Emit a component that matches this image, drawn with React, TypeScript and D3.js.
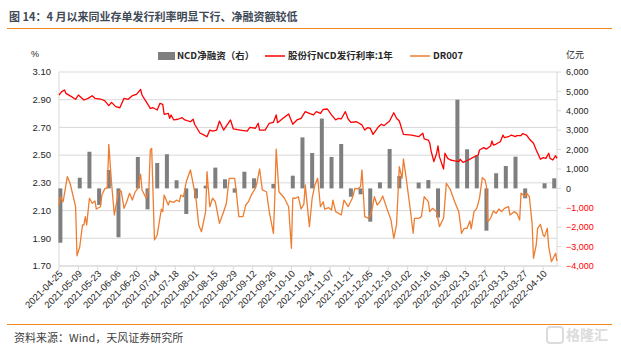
import React from "react";
import * as d3 from "d3";

// 股份行NCD发行利率:1年 (%)
const ncdRate: [string, number][] = [
  ["2021-04-25", 2.934], ["2021-04-27", 2.958], ["2021-04-29", 2.97], ["2021-04-30", 2.946],
  ["2021-05-04", 2.922], ["2021-05-07", 2.903], ["2021-05-09", 2.934], ["2021-05-13", 2.898],
  ["2021-05-16", 2.91], ["2021-05-19", 2.929], ["2021-05-21", 2.91], ["2021-05-25", 2.905],
  ["2021-05-28", 2.893], ["2021-05-31", 2.857], ["2021-06-02", 2.881], ["2021-06-05", 2.85],
  ["2021-06-08", 2.842], ["2021-06-11", 2.91], ["2021-06-14", 2.903], ["2021-06-17", 2.929],
  ["2021-06-20", 2.939], ["2021-06-23", 2.975], ["2021-06-24", 2.934], ["2021-06-27", 2.886],
  ["2021-06-30", 2.838], ["2021-07-02", 2.842], ["2021-07-05", 2.826], ["2021-07-07", 2.874],
  ["2021-07-09", 2.867], ["2021-07-10", 2.795], ["2021-07-13", 2.802], ["2021-07-14", 2.766],
  ["2021-07-15", 2.79], ["2021-07-17", 2.754], ["2021-07-20", 2.759], ["2021-07-23", 2.77],
  ["2021-07-25", 2.754], ["2021-07-29", 2.741], ["2021-07-31", 2.759], ["2021-08-01", 2.723],
  ["2021-08-05", 2.658], ["2021-08-07", 2.65], ["2021-08-10", 2.633], ["2021-08-12", 2.681],
  ["2021-08-14", 2.674], ["2021-08-17", 2.681], ["2021-08-19", 2.746], ["2021-08-22", 2.681],
  ["2021-08-27", 2.754], ["2021-08-29", 2.689], ["2021-09-03", 2.681], ["2021-09-08", 2.674],
  ["2021-09-10", 2.701], ["2021-09-14", 2.694], ["2021-09-16", 2.73], ["2021-09-17", 2.681],
  ["2021-09-21", 2.681], ["2021-09-24", 2.73], ["2021-09-27", 2.737], ["2021-09-29", 2.79],
  ["2021-09-30", 2.734], ["2021-10-04", 2.766], ["2021-10-08", 2.797], ["2021-10-11", 2.723],
  ["2021-10-14", 2.754], ["2021-10-17", 2.766], ["2021-10-20", 2.814], ["2021-10-23", 2.802],
  ["2021-10-26", 2.79], ["2021-10-28", 2.814], ["2021-10-31", 2.802], ["2021-11-02", 2.831],
  ["2021-11-05", 2.833], ["2021-11-08", 2.79], ["2021-11-11", 2.754], ["2021-11-13", 2.766],
  ["2021-11-15", 2.761], ["2021-11-18", 2.814], ["2021-11-20", 2.761], ["2021-11-22", 2.737],
  ["2021-11-26", 2.741], ["2021-11-30", 2.718], ["2021-12-02", 2.681], ["2021-12-04", 2.698],
  ["2021-12-06", 2.694], ["2021-12-08", 2.65], ["2021-12-12", 2.705], ["2021-12-14", 2.723],
  ["2021-12-16", 2.713], ["2021-12-18", 2.73], ["2021-12-20", 2.746], ["2021-12-23", 2.806],
  ["2021-12-25", 2.766], ["2021-12-27", 2.746], ["2021-12-30", 2.65], ["2022-01-05", 2.645],
  ["2022-01-10", 2.633], ["2022-01-13", 2.658], ["2022-01-14", 2.617], ["2022-01-17", 2.609],
  ["2022-01-18", 2.586], ["2022-01-19", 2.53], ["2022-01-21", 2.453], ["2022-01-23", 2.514],
  ["2022-01-24", 2.566], ["2022-01-25", 2.489], ["2022-01-28", 2.4], ["2022-01-29", 2.514],
  ["2022-01-31", 2.477], ["2022-02-02", 2.465], ["2022-02-05", 2.458], ["2022-02-08", 2.453],
  ["2022-02-09", 2.47], ["2022-02-11", 2.448], ["2022-02-15", 2.465], ["2022-02-18", 2.482],
  ["2022-02-22", 2.501], ["2022-02-23", 2.537], ["2022-02-26", 2.554], ["2022-02-28", 2.544],
  ["2022-03-03", 2.566], ["2022-03-04", 2.602], ["2022-03-05", 2.573], ["2022-03-07", 2.58],
  ["2022-03-10", 2.597], ["2022-03-12", 2.645], ["2022-03-13", 2.626], ["2022-03-16", 2.633],
  ["2022-03-18", 2.645], ["2022-03-21", 2.633], ["2022-03-22", 2.641], ["2022-03-25", 2.641],
  ["2022-03-26", 2.655], ["2022-03-29", 2.645], ["2022-03-31", 2.617], ["2022-04-03", 2.586],
  ["2022-04-05", 2.537], ["2022-04-08", 2.47], ["2022-04-10", 2.482], ["2022-04-12", 2.477],
  ["2022-04-14", 2.514], ["2022-04-15", 2.477], ["2022-04-17", 2.465], ["2022-04-19", 2.496],
  ["2022-04-20", 2.477],
];

// DR007 (%)
const dr007: [string, number][] = [
  ["2021-04-25", 2.14], ["2021-04-26", 2.2], ["2021-04-28", 2.164], ["2021-05-01", 2.345],
  ["2021-05-03", 2.297], ["2021-05-07", 2.128], ["2021-05-08", 1.774], ["2021-05-10", 1.839],
  ["2021-05-12", 1.996], ["2021-05-13", 1.996], ["2021-05-14", 2.056], ["2021-05-15", 1.996],
  ["2021-05-17", 2.189], ["2021-05-19", 2.153], ["2021-05-21", 2.169], ["2021-05-22", 2.111],
  ["2021-05-25", 2.128], ["2021-05-26", 2.212], ["2021-05-28", 2.256], ["2021-05-30", 2.265],
  ["2021-05-31", 2.578], ["2021-06-02", 2.297], ["2021-06-04", 2.068], ["2021-06-07", 2.236],
  ["2021-06-09", 2.241], ["2021-06-11", 2.116], ["2021-06-13", 2.164], ["2021-06-15", 2.225],
  ["2021-06-17", 2.176], ["2021-06-19", 2.233], ["2021-06-21", 2.261], ["2021-06-23", 2.362],
  ["2021-06-24", 2.249], ["2021-06-27", 2.189], ["2021-06-29", 2.261], ["2021-06-30", 2.537],
  ["2021-07-01", 2.549], ["2021-07-03", 1.888], ["2021-07-05", 1.924], ["2021-07-08", 2.111],
  ["2021-07-09", 2.092], ["2021-07-10", 2.212], ["2021-07-13", 2.14], ["2021-07-14", 2.169],
  ["2021-07-17", 2.16], ["2021-07-19", 2.176], ["2021-07-21", 2.164], ["2021-07-22", 2.212],
  ["2021-07-24", 2.2], ["2021-07-26", 2.308], ["2021-07-29", 2.393], ["2021-07-31", 2.29],
  ["2021-08-02", 2.189], ["2021-08-04", 1.996], ["2021-08-06", 1.948], ["2021-08-09", 2.092],
  ["2021-08-10", 2.381], ["2021-08-12", 2.128], ["2021-08-14", 2.189], ["2021-08-16", 2.164],
  ["2021-08-19", 2.008], ["2021-08-22", 2.092], ["2021-08-24", 2.153], ["2021-08-26", 2.333],
  ["2021-08-30", 2.333], ["2021-08-31", 2.249], ["2021-09-02", 2.056], ["2021-09-05", 2.056],
  ["2021-09-07", 2.14], ["2021-09-09", 2.164], ["2021-09-11", 2.212], ["2021-09-14", 2.261],
  ["2021-09-15", 2.297], ["2021-09-17", 2.4], ["2021-09-19", 2.249], ["2021-09-22", 2.236],
  ["2021-09-24", 2.092], ["2021-09-27", 1.936], ["2021-09-28", 2.189], ["2021-09-29", 2.544],
  ["2021-10-01", 2.236], ["2021-10-05", 2.189], ["2021-10-08", 2.128], ["2021-10-10", 1.828],
  ["2021-10-11", 2.189], ["2021-10-13", 2.189], ["2021-10-15", 2.2], ["2021-10-17", 2.111],
  ["2021-10-19", 2.146], ["2021-10-20", 2.285], ["2021-10-23", 1.984], ["2021-10-25", 2.189],
  ["2021-10-27", 2.285], ["2021-10-29", 2.333], ["2021-10-31", 2.128], ["2021-11-02", 2.164],
  ["2021-11-03", 2.111], ["2021-11-06", 2.121], ["2021-11-08", 2.104], ["2021-11-09", 2.176],
  ["2021-11-11", 2.092], ["2021-11-15", 2.068], ["2021-11-17", 2.176], ["2021-11-20", 2.128],
  ["2021-11-23", 2.189], ["2021-11-25", 2.261], ["2021-11-27", 2.256], ["2021-11-29", 2.273],
  ["2021-11-30", 2.393], ["2021-12-02", 2.056], ["2021-12-05", 2.044], ["2021-12-07", 2.092],
  ["2021-12-09", 2.2], ["2021-12-11", 2.14], ["2021-12-13", 2.164], ["2021-12-15", 2.205],
  ["2021-12-18", 2.116], ["2021-12-21", 2.032], ["2021-12-23", 1.9], ["2021-12-25", 1.996],
  ["2021-12-27", 2.417], ["2021-12-29", 2.333], ["2021-12-30", 2.472], ["2022-01-01", 2.333],
  ["2022-01-04", 2.104], ["2022-01-06", 1.936], ["2022-01-07", 2.044], ["2022-01-10", 2.044],
  ["2022-01-12", 2.056], ["2022-01-14", 2.2], ["2022-01-17", 2.164], ["2022-01-18", 2.092],
  ["2022-01-20", 2.116], ["2022-01-23", 2.092], ["2022-01-25", 1.984], ["2022-01-28", 2.044],
  ["2022-01-30", 2.297], ["2022-02-02", 2.249], ["2022-02-05", 2.164], ["2022-02-08", 2.092],
  ["2022-02-10", 1.936], ["2022-02-12", 1.972], ["2022-02-14", 1.972], ["2022-02-16", 2.025],
  ["2022-02-17", 1.968], ["2022-02-19", 2.092], ["2022-02-21", 2.116], ["2022-02-23", 2.192],
  ["2022-02-25", 2.337], ["2022-02-27", 2.32], ["2022-02-28", 2.273], ["2022-03-01", 2.02],
  ["2022-03-03", 2.044], ["2022-03-05", 2.097], ["2022-03-07", 2.08], ["2022-03-09", 2.111],
  ["2022-03-11", 2.092], ["2022-03-13", 2.116], ["2022-03-16", 2.128], ["2022-03-17", 2.068],
  ["2022-03-20", 2.092], ["2022-03-22", 2.08], ["2022-03-24", 2.032], ["2022-03-25", 2.225],
  ["2022-03-28", 2.2], ["2022-03-29", 2.225], ["2022-03-31", 2.2], ["2022-04-02", 2.008],
  ["2022-04-03", 1.756], ["2022-04-05", 1.852], ["2022-04-06", 1.972], ["2022-04-08", 2.001],
  ["2022-04-10", 1.924], ["2022-04-11", 1.912], ["2022-04-13", 1.972], ["2022-04-14", 1.839],
  ["2022-04-16", 1.731], ["2022-04-19", 1.792], ["2022-04-20", 1.736],
];

// NCD净融资（右）, 亿元, weekly
const netFinance: [string, number][] = [
  ["2021-04-26", -2800], ["2021-05-03", 0], ["2021-05-10", 550], ["2021-05-17", 1890],
  ["2021-05-24", -855], ["2021-05-31", 950], ["2021-06-07", -2520], ["2021-06-14", 0],
  ["2021-06-21", 1620], ["2021-06-28", -1080], ["2021-07-05", 1310], ["2021-07-12", 1760],
  ["2021-07-19", 420], ["2021-07-26", -1320], ["2021-08-02", -510], ["2021-08-09", 140],
  ["2021-08-16", 1070], ["2021-08-23", 470], ["2021-08-30", -220], ["2021-09-06", 860],
  ["2021-09-13", 520], ["2021-09-20", 0], ["2021-09-27", 230], ["2021-10-04", 0],
  ["2021-10-11", 655], ["2021-10-18", 2630], ["2021-10-25", 1825], ["2021-11-01", 3600],
  ["2021-11-08", 1620], ["2021-11-15", 2290], ["2021-11-22", -430], ["2021-11-29", -305],
  ["2021-12-06", -1715], ["2021-12-13", 310], ["2021-12-20", 2030], ["2021-12-27", 640],
  ["2022-01-03", 0], ["2022-01-10", 300], ["2022-01-17", 430], ["2022-01-24", -1500],
  ["2022-01-31", 0], ["2022-02-07", 4570], ["2022-02-14", 2015], ["2022-02-21", 1705],
  ["2022-02-28", -2180], ["2022-03-07", 780], ["2022-03-14", 1155], ["2022-03-21", 1635],
  ["2022-03-28", -510], ["2022-04-04", 0], ["2022-04-11", 265], ["2022-04-18", 520],
];

const xTickLabels = [
  "2021-04-25", "2021-05-09", "2021-05-23", "2021-06-06", "2021-06-20", "2021-07-04",
  "2021-07-18", "2021-08-01", "2021-08-15", "2021-08-29", "2021-09-12", "2021-09-26",
  "2021-10-10", "2021-10-24", "2021-11-07", "2021-11-21", "2021-12-05", "2021-12-19",
  "2022-01-02", "2022-01-16", "2022-01-30", "2022-02-13", "2022-02-27", "2022-03-13",
  "2022-03-27", "2022-04-10",
];
const leftTicks = [1.7, 1.9, 2.1, 2.3, 2.5, 2.7, 2.9, 3.1];
const rightTicks = [-4000, -3000, -2000, -1000, 0, 1000, 2000, 3000, 4000, 5000, 6000];

const W = 621;
const H = 354;
const m = { left: 59, right: 557, top: 72, bottom: 266 };
const SANS = "'Liberation Sans', Arial, 'Noto Sans CJK SC', sans-serif";
const CJK = "'Noto Sans CJK SC', 'Liberation Sans', sans-serif";

export default function App() {
  const parse = d3.timeParse("%Y-%m-%d");
  const x = d3.scaleTime()
    .domain([parse("2021-04-25")!, parse("2022-04-20")!])
    .range([m.left, m.right]);
  const yL = d3.scaleLinear().domain([1.7, 3.1]).range([m.bottom, m.top]);
  const yR = d3.scaleLinear().domain([-4000, 6000]).range([m.bottom, m.top]);

  const line = d3.line<[string, number]>()
    .x(d => x(parse(d[0])!))
    .y(d => yL(d[1]));

  const fmtR = d3.format(",");
  const barW = 4;

  return (
    <div style={{ position: "absolute", left: 0, top: 0, background: "#fff" }}>
      <svg width={W} height={H} style={{ display: "block" }}>
        <rect width={W} height={H} fill="#fff" />
        {/* title */}
        <text x={9} y={21} fontFamily={CJK} fontSize={11} fontWeight="bold" fill="#3f4a57">
          图 14：4 月以来同业存单发行利率明显下行、净融资额较低
        </text>
        <line x1={7} x2={612} y1={28.5} y2={28.5} stroke="#f0861e" strokeWidth={1.2} />

        {/* gridlines */}
        {leftTicks.map(t => (
          <line key={t} x1={m.left} x2={m.right} y1={yL(t)} y2={yL(t)} stroke="#d9d9d9" strokeWidth={1} />
        ))}
        <line x1={m.left} x2={m.left} y1={m.top} y2={m.bottom} stroke="#d9d9d9" />
        <line x1={m.right} x2={m.right} y1={m.top} y2={m.bottom} stroke="#d9d9d9" />

        {/* left axis labels */}
        {leftTicks.map(t => (
          <text key={t} x={51} y={yL(t)} dy="0.35em" textAnchor="end" fontFamily={SANS} fontSize={9.5} fill="#262626">
            {t.toFixed(2)}
          </text>
        ))}
        <text x={31} y={57} fontFamily={SANS} fontSize={9} fill="#262626">%</text>

        {/* right axis */}
        {rightTicks.map(t => (
          <g key={t}>
            <line x1={m.right} x2={m.right + 4} y1={yR(t)} y2={yR(t)} stroke="#d9d9d9" />
            <text x={566} y={yR(t)} dy="0.35em" fontFamily={SANS} fontSize={9} fill={t < 0 ? "#ff0000" : "#262626"}>
              {fmtR(t)}
            </text>
          </g>
        ))}
        <text x={566} y={58} fontFamily={CJK} fontSize={9} fill="#262626">亿元</text>

        {/* bars */}
        {netFinance.filter(d => d[1] !== 0).map(d => {
          const cx = x(parse(d[0])!);
          const y0 = yR(0);
          const y1 = yR(d[1]);
          return (
            <rect key={d[0]} x={cx - barW / 2} width={barW} y={Math.min(y0, y1)} height={Math.abs(y1 - y0)} fill="#7f7f7f" />
          );
        })}

        {/* lines */}
        <path d={line(dr007) ?? ""} fill="none" stroke="#ed7d31" strokeWidth={1.3} strokeLinejoin="round" />
        <path d={line(ncdRate) ?? ""} fill="none" stroke="#ff0000" strokeWidth={1.3} strokeLinejoin="round" />

        {/* x axis */}
        <line x1={m.left} x2={m.right} y1={m.bottom} y2={m.bottom} stroke="#d9d9d9" />
        {xTickLabels.map(s => {
          const tx = x(parse(s)!);
          return (
            <g key={s}>
              <line x1={tx} x2={tx} y1={m.bottom} y2={m.bottom + 4} stroke="#d9d9d9" />
              <text
                transform={`translate(${tx + 2},${m.bottom + 6}) rotate(-45)`}
                textAnchor="end"
                dy="0.35em"
                fontFamily={SANS}
                fontSize={9.5}
                fill="#262626"
              >
                {s}
              </text>
            </g>
          );
        })}

        {/* legend */}
        <rect x={158} y={52} width={17} height={8} fill="#7f7f7f" />
        <text x={177} y={56} dy="0.35em" fontFamily={CJK} fontSize={9.5} fontWeight="bold" fill="#262626">NCD净融资（右）</text>
        <line x1={265} x2={285} y1={56} y2={56} stroke="#ff0000" strokeWidth={1.5} />
        <text x={288} y={56} dy="0.35em" fontFamily={CJK} fontSize={9.5} fontWeight="bold" fill="#262626">股份行NCD发行利率:1年</text>
        <line x1={410} x2={430} y1={56} y2={56} stroke="#ed7d31" strokeWidth={1.5} />
        <text x={433} y={56} dy="0.35em" fontFamily={CJK} fontSize={9.5} fontWeight="bold" fill="#262626">DR007</text>

        {/* footer */}
        <line x1={7} x2={612} y1={324.5} y2={324.5} stroke="#f0861e" strokeWidth={1.2} />
        <text x={14} y={338} dy="0.35em" fontFamily={CJK} fontSize={11} fill="#404040">
          资料来源：Wind，天风证券研究所
        </text>
        <rect x={547} y={327} width={16} height={16} rx={3} fill="none" stroke="#dcdcdc" strokeWidth={2} />
        <text x={566} y={335} dy="0.35em" fontFamily={CJK} fontSize={14} fontWeight="bold" fill="#dcdcdc">格隆汇</text>
      </svg>
    </div>
  );
}
